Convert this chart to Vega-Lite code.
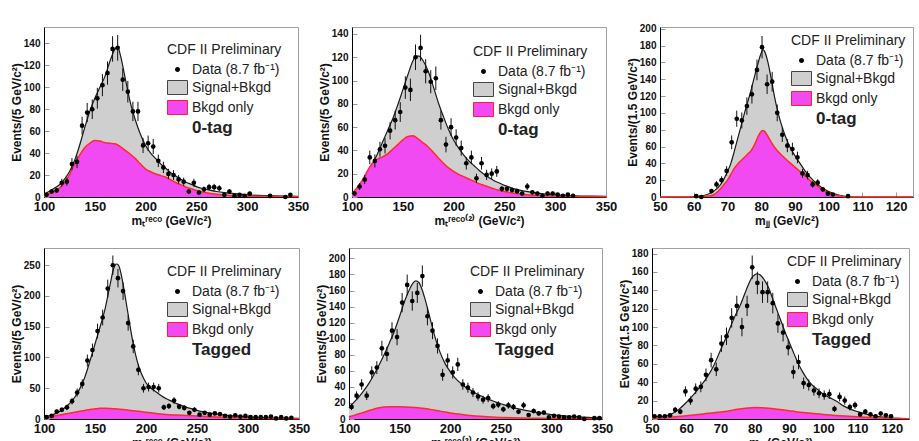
{
"$schema": "https://vega.github.io/schema/vega-lite/v6.json",
"background": "white",
"padding": {"left": 9, "top": 23, "right": 0, "bottom": 0},
"config": {
 "view": {"stroke": "#a0a0a0", "strokeWidth": 1},
 "font": "Liberation Sans",
 "axis": {"grid": false, "domainColor": "#000000", "domainWidth": 1, "tickColor": "#999999", "tickSize": -5, "labelPadding": 9, "labelOverlap": false, "labelFont": "Liberation Sans", "labelFontWeight": "bold", "labelColor": "#111111", "titleFont": "Liberation Sans", "titleFontWeight": "bold", "titleFontSize": 12, "titleColor": "#111111"},
 "axisX": {"labelFontSize": 13, "labelFlush": false, "titlePadding": 2, "labelPadding": 8},
 "axisY": {"labelFontSize": 10, "titlePadding": 0},
 "legend": {"orient": "top-right", "offset": 16, "padding": 0, "titleFont": "Liberation Sans", "titleFontSize": 14, "titleFontWeight": "normal", "titleColor": "#222222", "titlePadding": 2, "labelFont": "Liberation Sans", "labelFontSize": 14, "labelColor": "#222222", "labelLimit": 300, "symbolSize": 400, "rowPadding": 0, "symbolStrokeWidth": 1, "symbolOffset": 0}
},
"datasets": {
 "a1": [{"m":102.5,"v":2,"e":1.4},{"m":107.5,"v":5,"e":2.2},{"m":112.5,"v":6,"e":2.4},{"m":117.5,"v":13,"e":3.6},{"m":122.5,"v":14,"e":3.7},{"m":127.5,"v":30,"e":5.5},{"m":132.5,"v":32,"e":5.7},{"m":137.5,"v":65,"e":8.1},{"m":142.5,"v":77,"e":8.8},{"m":147.5,"v":80,"e":8.9},{"m":152.5,"v":90,"e":9.5},{"m":157.5,"v":102,"e":10.1},{"m":162.5,"v":113,"e":10.6},{"m":167.5,"v":135,"e":11.6},{"m":172.5,"v":136,"e":11.7},{"m":177.5,"v":107,"e":10.3},{"m":182.5,"v":96,"e":9.8},{"m":187.5,"v":78,"e":8.8},{"m":192.5,"v":78,"e":8.8},{"m":197.5,"v":47,"e":6.9},{"m":202.5,"v":49,"e":7},{"m":207.5,"v":46,"e":6.8},{"m":212.5,"v":33,"e":5.7},{"m":217.5,"v":27,"e":5.2},{"m":222.5,"v":21,"e":4.6},{"m":227.5,"v":20,"e":4.5},{"m":232.5,"v":16,"e":4},{"m":237.5,"v":14,"e":3.7},{"m":242.5,"v":5,"e":2.2},{"m":247.5,"v":13,"e":3.6},{"m":252.5,"v":4,"e":2},{"m":257.5,"v":7,"e":2.6},{"m":262.5,"v":9,"e":3},{"m":267.5,"v":9,"e":3},{"m":272.5,"v":8,"e":2.8},{"m":277.5,"v":2,"e":1.4},{"m":282.5,"v":5,"e":2.2},{"m":287.5,"v":1,"e":1},{"m":292.5,"v":2,"e":1.4},{"m":297.5,"v":1,"e":1},{"m":302.5,"v":3,"e":1.7},{"m":322.5,"v":1,"e":1},{"m":337.5,"v":0,"e":0},{"m":342.5,"v":2,"e":1.4}],
 "s1": [{"m":100,"v":3},{"m":105,"v":5},{"m":110,"v":8},{"m":115,"v":11},{"m":120,"v":16},{"m":125,"v":23},{"m":130,"v":33},{"m":135,"v":47},{"m":140,"v":63},{"m":145,"v":78},{"m":150,"v":90},{"m":155,"v":100},{"m":160,"v":110},{"m":165,"v":124},{"m":170,"v":135},{"m":172.5,"v":137},{"m":175,"v":130},{"m":180,"v":108},{"m":185,"v":86},{"m":190,"v":70},{"m":195,"v":57},{"m":200,"v":47},{"m":205,"v":40},{"m":210,"v":35},{"m":215,"v":30},{"m":220,"v":26},{"m":225,"v":22},{"m":230,"v":19},{"m":235,"v":16},{"m":240,"v":13.5},{"m":245,"v":11.5},{"m":250,"v":9.5},{"m":255,"v":8},{"m":260,"v":7},{"m":270,"v":5},{"m":280,"v":3.8},{"m":290,"v":2.8},{"m":300,"v":2},{"m":310,"v":1.5},{"m":320,"v":1.2},{"m":335,"v":0.8},{"m":350,"v":0.5}],
 "b1": [{"m":100,"v":2},{"m":105,"v":3},{"m":110,"v":5},{"m":115,"v":8},{"m":120,"v":13},{"m":125,"v":20},{"m":130,"v":30},{"m":135,"v":38},{"m":140,"v":45},{"m":145,"v":49},{"m":150,"v":51.5},{"m":155,"v":51},{"m":160,"v":49.5},{"m":165,"v":49},{"m":170,"v":48.5},{"m":175,"v":46},{"m":180,"v":42.5},{"m":185,"v":39},{"m":190,"v":35},{"m":195,"v":30},{"m":200,"v":25.5},{"m":205,"v":23},{"m":210,"v":21},{"m":215,"v":19.5},{"m":220,"v":18},{"m":225,"v":15.5},{"m":230,"v":13},{"m":235,"v":11},{"m":240,"v":9},{"m":245,"v":7.5},{"m":250,"v":6},{"m":255,"v":4.8},{"m":260,"v":3.8},{"m":270,"v":2.5},{"m":280,"v":1.7},{"m":290,"v":1.2},{"m":300,"v":0.9},{"m":320,"v":0.6},{"m":350,"v":0.3}],
 "a2": [{"m":102.5,"v":3,"e":1.7},{"m":107.5,"v":9,"e":3},{"m":112.5,"v":15,"e":3.9},{"m":117.5,"v":34,"e":5.8},{"m":122.5,"v":31,"e":5.6},{"m":127.5,"v":41,"e":6.4},{"m":132.5,"v":44,"e":6.6},{"m":137.5,"v":57,"e":7.5},{"m":142.5,"v":66,"e":8.1},{"m":147.5,"v":73,"e":8.5},{"m":152.5,"v":94,"e":9.7},{"m":157.5,"v":92,"e":9.6},{"m":162.5,"v":120,"e":11},{"m":167.5,"v":128,"e":11.3},{"m":172.5,"v":108,"e":10.4},{"m":177.5,"v":99,"e":9.9},{"m":182.5,"v":102,"e":10.1},{"m":187.5,"v":66,"e":8.1},{"m":192.5,"v":45,"e":6.7},{"m":197.5,"v":60,"e":7.7},{"m":202.5,"v":51,"e":7.1},{"m":207.5,"v":42,"e":6.5},{"m":212.5,"v":29,"e":5.4},{"m":217.5,"v":34,"e":5.8},{"m":222.5,"v":16,"e":4},{"m":227.5,"v":29,"e":5.4},{"m":232.5,"v":19,"e":4.4},{"m":237.5,"v":20,"e":4.5},{"m":242.5,"v":22,"e":4.7},{"m":247.5,"v":7,"e":2.6},{"m":252.5,"v":7,"e":2.6},{"m":257.5,"v":6,"e":2.4},{"m":262.5,"v":5,"e":2.2},{"m":267.5,"v":3,"e":1.7},{"m":272.5,"v":9,"e":3},{"m":277.5,"v":4,"e":2},{"m":282.5,"v":3,"e":1.7},{"m":287.5,"v":1,"e":1},{"m":292.5,"v":3,"e":1.7},{"m":297.5,"v":3,"e":1.7},{"m":302.5,"v":2,"e":1.4},{"m":307.5,"v":1,"e":1},{"m":312.5,"v":2,"e":1.4},{"m":317.5,"v":1,"e":1}],
 "s2": [{"m":100,"v":3},{"m":105,"v":7},{"m":110,"v":12},{"m":115,"v":19},{"m":120,"v":28},{"m":125,"v":37},{"m":130,"v":47},{"m":135,"v":57},{"m":140,"v":67},{"m":145,"v":79},{"m":150,"v":92},{"m":155,"v":105},{"m":160,"v":117},{"m":163,"v":121},{"m":166,"v":121},{"m":170,"v":117},{"m":175,"v":108},{"m":180,"v":95},{"m":185,"v":81},{"m":190,"v":69},{"m":195,"v":58},{"m":200,"v":49},{"m":205,"v":42},{"m":210,"v":36},{"m":215,"v":31},{"m":220,"v":27},{"m":225,"v":23},{"m":230,"v":19.5},{"m":235,"v":16.5},{"m":240,"v":14},{"m":245,"v":12},{"m":250,"v":10},{"m":255,"v":8.5},{"m":260,"v":7},{"m":270,"v":5},{"m":280,"v":3.6},{"m":290,"v":2.6},{"m":300,"v":1.9},{"m":310,"v":1.4},{"m":320,"v":1},{"m":335,"v":0.7},{"m":350,"v":0.5}],
 "b2": [{"m":100,"v":3},{"m":105,"v":8},{"m":110,"v":14},{"m":115,"v":22},{"m":120,"v":29},{"m":125,"v":32.5},{"m":130,"v":34.5},{"m":135,"v":37},{"m":140,"v":41},{"m":145,"v":45},{"m":150,"v":49},{"m":155,"v":52},{"m":160,"v":52.5},{"m":165,"v":50},{"m":170,"v":46.5},{"m":175,"v":43},{"m":180,"v":38.5},{"m":185,"v":33.5},{"m":190,"v":29},{"m":195,"v":25},{"m":200,"v":22},{"m":205,"v":19.5},{"m":210,"v":17.5},{"m":215,"v":15.5},{"m":220,"v":13.5},{"m":225,"v":11.5},{"m":230,"v":10},{"m":235,"v":8.5},{"m":240,"v":7},{"m":245,"v":5.8},{"m":250,"v":4.8},{"m":260,"v":3.2},{"m":270,"v":2.2},{"m":280,"v":1.5},{"m":300,"v":0.8},{"m":320,"v":0.5},{"m":350,"v":0.2}],
 "a3": [{"m":60.75,"v":1,"e":1},{"m":62.25,"v":0,"e":0},{"m":65.25,"v":7,"e":2.6},{"m":66.75,"v":15,"e":3.9},{"m":68.25,"v":20,"e":4.5},{"m":69.75,"v":31,"e":5.6},{"m":71.25,"v":65,"e":8.1},{"m":72.75,"v":93,"e":9.6},{"m":74.25,"v":91,"e":9.5},{"m":75.75,"v":108,"e":10.4},{"m":77.25,"v":122,"e":11},{"m":78.75,"v":151,"e":12.3},{"m":80.25,"v":178,"e":13.3},{"m":81.75,"v":134,"e":11.6},{"m":83.25,"v":137,"e":11.7},{"m":84.75,"v":100,"e":10},{"m":86.25,"v":74,"e":8.6},{"m":87.75,"v":61,"e":7.8},{"m":89.25,"v":57,"e":7.5},{"m":90.75,"v":47,"e":6.9},{"m":92.25,"v":28,"e":5.3},{"m":93.75,"v":26,"e":5.1},{"m":95.25,"v":15,"e":3.9},{"m":96.75,"v":17,"e":4.1},{"m":98.25,"v":9,"e":3},{"m":99.75,"v":4,"e":2},{"m":101.25,"v":3,"e":1.7},{"m":105.75,"v":1,"e":1}],
 "s3": [{"m":50,"v":0},{"m":58,"v":0},{"m":60,"v":0.5},{"m":62,"v":1},{"m":64,"v":3},{"m":66,"v":7},{"m":68,"v":15},{"m":70,"v":30},{"m":71,"v":40},{"m":72,"v":54},{"m":73,"v":69},{"m":74,"v":84},{"m":75,"v":99},{"m":76,"v":113},{"m":77,"v":127},{"m":78,"v":143},{"m":79,"v":158},{"m":80,"v":171},{"m":80.5,"v":175},{"m":81,"v":173},{"m":82,"v":160},{"m":83,"v":140},{"m":84,"v":118},{"m":85,"v":100},{"m":86,"v":86},{"m":87,"v":74},{"m":88,"v":64},{"m":89,"v":56},{"m":90,"v":49},{"m":91,"v":43},{"m":92,"v":37},{"m":93,"v":31},{"m":94,"v":26},{"m":95,"v":21.5},{"m":96,"v":17.5},{"m":97,"v":14},{"m":98,"v":11},{"m":99,"v":8.5},{"m":100,"v":6.5},{"m":101,"v":4.8},{"m":102,"v":3.4},{"m":103,"v":2.2},{"m":104,"v":1.3},{"m":105,"v":0.7},{"m":106,"v":0.3},{"m":108,"v":0},{"m":125,"v":0}],
 "b3": [{"m":50,"v":0},{"m":62,"v":0},{"m":63,"v":0.5},{"m":65,"v":1.5},{"m":66,"v":3},{"m":67,"v":6},{"m":68,"v":10},{"m":69,"v":15},{"m":70,"v":20},{"m":71,"v":27},{"m":72,"v":34},{"m":73,"v":39},{"m":74,"v":43},{"m":75,"v":47},{"m":76,"v":51},{"m":77,"v":55},{"m":78,"v":62},{"m":79,"v":71},{"m":80,"v":78},{"m":80.5,"v":79},{"m":81,"v":78},{"m":82,"v":72},{"m":83,"v":65},{"m":84,"v":59},{"m":85,"v":54},{"m":86,"v":50},{"m":87,"v":46},{"m":88,"v":42.5},{"m":89,"v":39},{"m":90,"v":35.5},{"m":91,"v":32},{"m":92,"v":28.5},{"m":93,"v":25},{"m":94,"v":21.5},{"m":95,"v":18},{"m":96,"v":15},{"m":97,"v":12},{"m":98,"v":9},{"m":99,"v":6.8},{"m":100,"v":5},{"m":101,"v":3.5},{"m":102,"v":2.3},{"m":103,"v":1.4},{"m":104,"v":0.7},{"m":105,"v":0.3},{"m":106,"v":0},{"m":125,"v":0}],
 "a4": [{"m":102.5,"v":3,"e":1.7},{"m":107.5,"v":5,"e":2.2},{"m":112.5,"v":12,"e":3.5},{"m":117.5,"v":15,"e":3.9},{"m":122.5,"v":19,"e":4.4},{"m":127.5,"v":29,"e":5.4},{"m":132.5,"v":43,"e":6.6},{"m":137.5,"v":57,"e":7.5},{"m":142.5,"v":95,"e":9.7},{"m":147.5,"v":112,"e":10.6},{"m":152.5,"v":143,"e":12},{"m":157.5,"v":165,"e":12.8},{"m":162.5,"v":212,"e":14.6},{"m":167.5,"v":250,"e":15.8},{"m":172.5,"v":229,"e":15.1},{"m":177.5,"v":208,"e":14.4},{"m":182.5,"v":156,"e":12.5},{"m":187.5,"v":118,"e":10.9},{"m":192.5,"v":80,"e":8.9},{"m":197.5,"v":50,"e":7.1},{"m":202.5,"v":52,"e":7.2},{"m":207.5,"v":52,"e":7.2},{"m":212.5,"v":50,"e":7.1},{"m":217.5,"v":19,"e":4.4},{"m":222.5,"v":21,"e":4.6},{"m":227.5,"v":30,"e":5.5},{"m":232.5,"v":20,"e":4.5},{"m":237.5,"v":18,"e":4.2},{"m":242.5,"v":10,"e":3.2},{"m":247.5,"v":15,"e":3.9},{"m":252.5,"v":7,"e":2.6},{"m":257.5,"v":10,"e":3.2},{"m":262.5,"v":7,"e":2.6},{"m":267.5,"v":9,"e":3},{"m":272.5,"v":8,"e":2.8},{"m":277.5,"v":5,"e":2.2},{"m":282.5,"v":4,"e":2},{"m":287.5,"v":6,"e":2.4},{"m":292.5,"v":4,"e":2},{"m":297.5,"v":5,"e":2.2},{"m":302.5,"v":3,"e":1.7},{"m":307.5,"v":3,"e":1.7},{"m":312.5,"v":3,"e":1.7},{"m":317.5,"v":3,"e":1.7},{"m":322.5,"v":4,"e":2},{"m":327.5,"v":1,"e":1},{"m":332.5,"v":3,"e":1.7},{"m":337.5,"v":1,"e":1},{"m":342.5,"v":2,"e":1.4}],
 "s4": [{"m":100,"v":3},{"m":105,"v":5},{"m":110,"v":8},{"m":115,"v":12},{"m":120,"v":18},{"m":125,"v":25},{"m":130,"v":35},{"m":135,"v":49},{"m":140,"v":68},{"m":145,"v":94},{"m":150,"v":122},{"m":155,"v":150},{"m":160,"v":180},{"m":165,"v":220},{"m":168,"v":243},{"m":171,"v":252},{"m":173,"v":250},{"m":175,"v":240},{"m":178,"v":215},{"m":180,"v":195},{"m":183,"v":165},{"m":185,"v":145},{"m":188,"v":118},{"m":190,"v":103},{"m":193,"v":85},{"m":195,"v":76},{"m":198,"v":65},{"m":200,"v":59},{"m":205,"v":50},{"m":210,"v":44},{"m":215,"v":38},{"m":220,"v":33},{"m":225,"v":29},{"m":230,"v":25},{"m":235,"v":22},{"m":240,"v":19},{"m":245,"v":16.5},{"m":250,"v":14},{"m":255,"v":12},{"m":260,"v":10.5},{"m":270,"v":8},{"m":280,"v":6},{"m":290,"v":4.6},{"m":300,"v":3.5},{"m":310,"v":2.7},{"m":320,"v":2},{"m":335,"v":1.4},{"m":350,"v":1}],
 "b4": [{"m":100,"v":2},{"m":105,"v":3.5},{"m":110,"v":5},{"m":115,"v":6.5},{"m":120,"v":8},{"m":125,"v":9.5},{"m":130,"v":11},{"m":135,"v":12.5},{"m":140,"v":14},{"m":145,"v":15.5},{"m":150,"v":16.5},{"m":155,"v":17.3},{"m":160,"v":17.3},{"m":165,"v":17},{"m":170,"v":16.5},{"m":175,"v":16},{"m":180,"v":15},{"m":185,"v":14},{"m":190,"v":13},{"m":195,"v":12},{"m":200,"v":11},{"m":205,"v":10},{"m":210,"v":9},{"m":215,"v":8},{"m":220,"v":7.3},{"m":230,"v":6.5},{"m":240,"v":5.8},{"m":250,"v":5},{"m":260,"v":4},{"m":270,"v":3.2},{"m":280,"v":2.5},{"m":300,"v":1.5},{"m":320,"v":0.9},{"m":350,"v":0.4}],
 "a5": [{"m":102.5,"v":15,"e":3.9},{"m":107.5,"v":29,"e":5.4},{"m":112.5,"v":43,"e":6.6},{"m":117.5,"v":29,"e":5.4},{"m":122.5,"v":58,"e":7.6},{"m":127.5,"v":64,"e":8},{"m":132.5,"v":88,"e":9.4},{"m":137.5,"v":81,"e":9},{"m":142.5,"v":110,"e":10.5},{"m":147.5,"v":102,"e":10.1},{"m":152.5,"v":145,"e":12},{"m":157.5,"v":167,"e":12.9},{"m":162.5,"v":147,"e":12.1},{"m":167.5,"v":157,"e":12.5},{"m":172.5,"v":178,"e":13.3},{"m":177.5,"v":128,"e":11.3},{"m":182.5,"v":110,"e":10.5},{"m":187.5,"v":91,"e":9.5},{"m":192.5,"v":55,"e":7.4},{"m":197.5,"v":73,"e":8.5},{"m":202.5,"v":58,"e":7.6},{"m":207.5,"v":68,"e":8.2},{"m":212.5,"v":43,"e":6.6},{"m":217.5,"v":39,"e":6.2},{"m":222.5,"v":33,"e":5.7},{"m":227.5,"v":28,"e":5.3},{"m":232.5,"v":24,"e":4.9},{"m":237.5,"v":26,"e":5.1},{"m":242.5,"v":16,"e":4},{"m":247.5,"v":18,"e":4.2},{"m":252.5,"v":12,"e":3.5},{"m":257.5,"v":17,"e":4.1},{"m":262.5,"v":15,"e":3.9},{"m":267.5,"v":9,"e":3},{"m":272.5,"v":17,"e":4.1},{"m":277.5,"v":5,"e":2.2},{"m":282.5,"v":10,"e":3.2},{"m":287.5,"v":7,"e":2.6},{"m":292.5,"v":8,"e":2.8},{"m":297.5,"v":2,"e":1.4},{"m":302.5,"v":4,"e":2},{"m":307.5,"v":3,"e":1.7},{"m":312.5,"v":2,"e":1.4},{"m":317.5,"v":2,"e":1.4},{"m":322.5,"v":3,"e":1.7},{"m":327.5,"v":2,"e":1.4},{"m":332.5,"v":0,"e":0},{"m":342.5,"v":1,"e":1},{"m":347.5,"v":1,"e":1}],
 "s5": [{"m":100,"v":14},{"m":105,"v":21},{"m":110,"v":28},{"m":115,"v":36},{"m":120,"v":45},{"m":125,"v":56},{"m":130,"v":68},{"m":135,"v":81},{"m":140,"v":95},{"m":145,"v":110},{"m":150,"v":128},{"m":155,"v":147},{"m":160,"v":162},{"m":163,"v":169},{"m":166,"v":172},{"m":169,"v":170},{"m":172,"v":162},{"m":175,"v":150},{"m":178,"v":136},{"m":180,"v":126},{"m":185,"v":102},{"m":190,"v":83},{"m":195,"v":69},{"m":200,"v":59},{"m":205,"v":51},{"m":210,"v":45},{"m":215,"v":40},{"m":220,"v":36},{"m":225,"v":32},{"m":230,"v":29},{"m":235,"v":26},{"m":240,"v":23.5},{"m":245,"v":21},{"m":250,"v":19},{"m":255,"v":17},{"m":260,"v":15},{"m":270,"v":12},{"m":280,"v":9.5},{"m":290,"v":7.3},{"m":300,"v":5.5},{"m":310,"v":4.2},{"m":320,"v":3.2},{"m":330,"v":2.4},{"m":340,"v":1.7},{"m":350,"v":1.2}],
 "b5": [{"m":100,"v":2.5},{"m":105,"v":4.5},{"m":110,"v":6.5},{"m":115,"v":8.5},{"m":120,"v":10.5},{"m":125,"v":12.5},{"m":130,"v":14},{"m":135,"v":15},{"m":140,"v":15.3},{"m":145,"v":15.3},{"m":150,"v":15.2},{"m":155,"v":15},{"m":160,"v":14.7},{"m":165,"v":14.3},{"m":170,"v":13.8},{"m":175,"v":13},{"m":180,"v":12},{"m":185,"v":11},{"m":190,"v":9.8},{"m":195,"v":8.6},{"m":200,"v":7.5},{"m":205,"v":6.6},{"m":210,"v":5.8},{"m":215,"v":5},{"m":220,"v":4.4},{"m":230,"v":3.4},{"m":240,"v":2.6},{"m":250,"v":2},{"m":260,"v":1.6},{"m":270,"v":1.3},{"m":280,"v":1},{"m":300,"v":0.7},{"m":320,"v":0.5},{"m":350,"v":0.3}],
 "a6": [{"m":50.75,"v":3,"e":1.7},{"m":52.25,"v":3,"e":1.7},{"m":53.75,"v":3,"e":1.7},{"m":55.25,"v":4,"e":2},{"m":56.75,"v":10,"e":3.2},{"m":58.25,"v":8,"e":2.8},{"m":59.75,"v":30,"e":5.5},{"m":61.25,"v":20,"e":4.5},{"m":62.75,"v":33,"e":5.7},{"m":64.25,"v":35,"e":5.9},{"m":65.75,"v":48,"e":6.9},{"m":67.25,"v":64,"e":8},{"m":68.75,"v":54,"e":7.3},{"m":70.25,"v":82,"e":9.1},{"m":71.75,"v":90,"e":9.5},{"m":73.25,"v":110,"e":10.5},{"m":74.75,"v":123,"e":11.1},{"m":76.25,"v":100,"e":10},{"m":77.75,"v":123,"e":11.1},{"m":79.25,"v":165,"e":12.8},{"m":80.75,"v":148,"e":12.2},{"m":82.25,"v":138,"e":11.7},{"m":83.75,"v":138,"e":11.7},{"m":85.25,"v":126,"e":11.2},{"m":86.75,"v":104,"e":10.2},{"m":88.25,"v":94,"e":9.7},{"m":89.75,"v":78,"e":8.8},{"m":91.25,"v":51,"e":7.1},{"m":92.75,"v":62,"e":7.9},{"m":94.25,"v":39,"e":6.2},{"m":95.75,"v":37,"e":6.1},{"m":97.25,"v":31,"e":5.6},{"m":98.75,"v":28,"e":5.3},{"m":100.25,"v":26,"e":5.1},{"m":101.75,"v":27,"e":5.2},{"m":103.25,"v":11,"e":3.3},{"m":104.75,"v":24,"e":4.9},{"m":106.25,"v":20,"e":4.5},{"m":107.75,"v":13,"e":3.6},{"m":109.25,"v":15,"e":3.9},{"m":110.75,"v":5,"e":2.2},{"m":112.25,"v":8,"e":2.8},{"m":113.75,"v":5,"e":2.2},{"m":115.25,"v":3,"e":1.7},{"m":116.75,"v":6,"e":2.4},{"m":118.25,"v":4,"e":2},{"m":119.75,"v":3,"e":1.7}],
 "s6": [{"m":50,"v":2},{"m":52,"v":2.5},{"m":54,"v":3.5},{"m":56,"v":6},{"m":58,"v":11},{"m":60,"v":18},{"m":62,"v":26},{"m":64,"v":35},{"m":66,"v":45},{"m":68,"v":58},{"m":70,"v":75},{"m":72,"v":92},{"m":74,"v":110},{"m":76,"v":126},{"m":78,"v":145},{"m":79,"v":153},{"m":80,"v":157},{"m":80.7,"v":158},{"m":81.5,"v":157},{"m":83,"v":150},{"m":84,"v":143},{"m":85,"v":133},{"m":86,"v":123},{"m":87,"v":113},{"m":88,"v":103},{"m":89,"v":93},{"m":90,"v":84},{"m":91,"v":75},{"m":92,"v":66},{"m":93,"v":58},{"m":94,"v":51},{"m":95,"v":45},{"m":96,"v":40},{"m":97,"v":36},{"m":98,"v":33},{"m":99,"v":30},{"m":100,"v":27},{"m":102,"v":23},{"m":104,"v":19},{"m":106,"v":14},{"m":108,"v":10.5},{"m":110,"v":8},{"m":112,"v":5.8},{"m":114,"v":4},{"m":116,"v":2.7},{"m":118,"v":1.8},{"m":120,"v":1.1},{"m":122,"v":0.7},{"m":125,"v":0.3}],
 "b6": [{"m":50,"v":0.5},{"m":55,"v":2},{"m":60,"v":3.5},{"m":65,"v":5.5},{"m":70,"v":7.5},{"m":72,"v":8.5},{"m":75,"v":10.5},{"m":78,"v":12},{"m":80,"v":12.5},{"m":82,"v":12.3},{"m":84,"v":11.8},{"m":86,"v":11},{"m":88,"v":10},{"m":90,"v":9},{"m":92,"v":8},{"m":95,"v":6.8},{"m":100,"v":5},{"m":105,"v":3.6},{"m":110,"v":2.4},{"m":115,"v":1.4},{"m":120,"v":0.7},{"m":125,"v":0.3}]
},
"spacing": 20,
"resolve": {"scale": {"color": "independent"}, "legend": {"color": "independent"}},
"vconcat": [
 {"hconcat": [
  {"width": 254, "height": 170,
   "encoding": {"x": {"field": "m", "type": "quantitative", "scale": {"domain": [100, 350], "nice": false, "zero": false}, "axis": {"title": "mₜʳᵉᶜᵒ (GeV/c²)", "values": [100,150,200,250,300,350]}},
                "y": {"field": "v", "type": "quantitative", "scale": {"domain": [0, 155], "nice": false}, "axis": {"title": "Events/(5 GeV/c²)", "values": [0,20,40,60,80,100,120,140]}}},
   "layer": [
    {"data": {"name": "s1"}, "mark": {"type": "area", "interpolate": "monotone", "opacity": 1}, "encoding": {"color": {"datum": "Signal+Bkgd", "type": "nominal", "scale": {"domain": ["Data (8.7 fb⁻¹)", "Signal+Bkgd", "Bkgd only", "0-tag"], "range": ["#000000", "#cfcfcf", "#f24af2", "rgba(255,255,255,0)"]}, "legend": {"title": "CDF II Preliminary", "offset": 16, "symbolType": {"expr": "datum.value === 'Signal+Bkgd' || datum.value === 'Bkgd only' ? 'M-1,-0.7H1V0.7H-1Z' : 'M0,-0.25A0.25,0.25 0 1,1 0,0.25A0.25,0.25 0 1,1 0,-0.25Z'"}, "symbolStrokeColor": {"expr": "datum.value === 'Signal+Bkgd' ? '#444444' : datum.value === 'Bkgd only' ? '#ff2020' : 'rgba(0,0,0,0)'"}, "labelFontWeight": {"expr": "datum.value === '0-tag' || datum.value === 'Tagged' ? 'bold' : 'normal'"}, "labelFontSize": {"expr": "datum.value === '0-tag' || datum.value === 'Tagged' ? 17 : 14"}}}}},
    {"data": {"name": "s1"}, "mark": {"type": "line", "interpolate": "monotone", "color": "#1a1a1a", "strokeWidth": 1.2}, "encoding": {}},
    {"data": {"name": "b1"}, "mark": {"type": "area", "interpolate": "monotone", "opacity": 1}, "encoding": {"color": {"datum": "Bkgd only", "type": "nominal", "scale": {"domain": ["Data (8.7 fb⁻¹)", "Signal+Bkgd", "Bkgd only", "0-tag"], "range": ["#000000", "#cfcfcf", "#f24af2", "rgba(255,255,255,0)"]}}}},
    {"data": {"name": "b1"}, "mark": {"type": "line", "interpolate": "monotone", "color": "#ff2a2a", "strokeWidth": 1.5}, "encoding": {}},
    {"data": {"name": "a1"}, "mark": {"type": "errorbar", "color": "#111111", "thickness": 1, "opacity": 1}, "encoding": {"yError": {"field": "e"}}},
    {"data": {"name": "a1"}, "mark": {"type": "point", "filled": true, "size": 22, "opacity": 1}, "encoding": {"color": {"datum": "Data (8.7 fb⁻¹)", "type": "nominal", "scale": {"domain": ["Data (8.7 fb⁻¹)", "Signal+Bkgd", "Bkgd only", "0-tag"], "range": ["#000000", "#cfcfcf", "#f24af2", "rgba(255,255,255,0)"]}}}},
    {"data": {"values": [{}]}, "mark": {"type": "rule", "color": "#c03030", "strokeWidth": 1}, "encoding": {"x": {"datum": 350}, "y": {"datum": 0}, "y2": {"datum": 155}}}
   ]},
  {"width": 254, "height": 170,
   "encoding": {"x": {"field": "m", "type": "quantitative", "scale": {"domain": [100, 350], "nice": false, "zero": false}, "axis": {"title": "mₜʳᵉᶜᵒ⁽²⁾ (GeV/c²)", "values": [100,150,200,250,300,350]}},
                "y": {"field": "v", "type": "quantitative", "scale": {"domain": [0, 146], "nice": false}, "axis": {"title": "Events/(5 GeV/c²)", "values": [0,20,40,60,80,100,120,140]}}},
   "layer": [
    {"data": {"name": "s2"}, "mark": {"type": "area", "interpolate": "monotone", "opacity": 1}, "encoding": {"color": {"datum": "Signal+Bkgd", "type": "nominal", "scale": {"domain": ["Data (8.7 fb⁻¹)", "Signal+Bkgd", "Bkgd only", "0-tag"], "range": ["#000000", "#cfcfcf", "#f24af2", "rgba(255,255,255,0)"]}, "legend": {"title": "CDF II Preliminary", "offset": 18, "symbolType": {"expr": "datum.value === 'Signal+Bkgd' || datum.value === 'Bkgd only' ? 'M-1,-0.7H1V0.7H-1Z' : 'M0,-0.25A0.25,0.25 0 1,1 0,0.25A0.25,0.25 0 1,1 0,-0.25Z'"}, "symbolStrokeColor": {"expr": "datum.value === 'Signal+Bkgd' ? '#444444' : datum.value === 'Bkgd only' ? '#ff2020' : 'rgba(0,0,0,0)'"}, "labelFontWeight": {"expr": "datum.value === '0-tag' || datum.value === 'Tagged' ? 'bold' : 'normal'"}, "labelFontSize": {"expr": "datum.value === '0-tag' || datum.value === 'Tagged' ? 17 : 14"}}}}},
    {"data": {"name": "s2"}, "mark": {"type": "line", "interpolate": "monotone", "color": "#1a1a1a", "strokeWidth": 1.2}, "encoding": {}},
    {"data": {"name": "b2"}, "mark": {"type": "area", "interpolate": "monotone", "opacity": 1}, "encoding": {"color": {"datum": "Bkgd only", "type": "nominal", "scale": {"domain": ["Data (8.7 fb⁻¹)", "Signal+Bkgd", "Bkgd only", "0-tag"], "range": ["#000000", "#cfcfcf", "#f24af2", "rgba(255,255,255,0)"]}}}},
    {"data": {"name": "b2"}, "mark": {"type": "line", "interpolate": "monotone", "color": "#ff2a2a", "strokeWidth": 1.5}, "encoding": {}},
    {"data": {"name": "a2"}, "mark": {"type": "errorbar", "color": "#111111", "thickness": 1, "opacity": 1}, "encoding": {"yError": {"field": "e"}}},
    {"data": {"name": "a2"}, "mark": {"type": "point", "filled": true, "size": 22, "opacity": 1}, "encoding": {"color": {"datum": "Data (8.7 fb⁻¹)", "type": "nominal", "scale": {"domain": ["Data (8.7 fb⁻¹)", "Signal+Bkgd", "Bkgd only", "0-tag"], "range": ["#000000", "#cfcfcf", "#f24af2", "rgba(255,255,255,0)"]}}}},
    {"data": {"values": [{}]}, "mark": {"type": "rule", "color": "#c03030", "strokeWidth": 1}, "encoding": {"x": {"datum": 350}, "y": {"datum": 0}, "y2": {"datum": 146}}}
   ]},
  {"width": 253, "height": 170,
   "encoding": {"x": {"field": "m", "type": "quantitative", "scale": {"domain": [50, 125], "nice": false, "zero": false}, "axis": {"title": "mⱼⱼ (GeV/c²)", "values": [50,60,70,80,90,100,110,120]}},
                "y": {"field": "v", "type": "quantitative", "scale": {"domain": [0, 202], "nice": false}, "axis": {"title": "Events/(1.5 GeV/c²)", "values": [0,20,40,60,80,100,120,140,160,180,200]}}},
   "layer": [
    {"data": {"name": "s3"}, "mark": {"type": "area", "interpolate": "monotone", "opacity": 1}, "encoding": {"color": {"datum": "Signal+Bkgd", "type": "nominal", "scale": {"domain": ["Data (8.7 fb⁻¹)", "Signal+Bkgd", "Bkgd only", "0-tag"], "range": ["#000000", "#cfcfcf", "#f24af2", "rgba(255,255,255,0)"]}, "legend": {"title": "CDF II Preliminary", "offset": 7, "symbolType": {"expr": "datum.value === 'Signal+Bkgd' || datum.value === 'Bkgd only' ? 'M-1,-0.7H1V0.7H-1Z' : 'M0,-0.25A0.25,0.25 0 1,1 0,0.25A0.25,0.25 0 1,1 0,-0.25Z'"}, "symbolStrokeColor": {"expr": "datum.value === 'Signal+Bkgd' ? '#444444' : datum.value === 'Bkgd only' ? '#ff2020' : 'rgba(0,0,0,0)'"}, "labelFontWeight": {"expr": "datum.value === '0-tag' || datum.value === 'Tagged' ? 'bold' : 'normal'"}, "labelFontSize": {"expr": "datum.value === '0-tag' || datum.value === 'Tagged' ? 17 : 14"}}}}},
    {"data": {"name": "s3"}, "mark": {"type": "line", "interpolate": "monotone", "color": "#1a1a1a", "strokeWidth": 1.2}, "encoding": {}},
    {"data": {"name": "b3"}, "mark": {"type": "area", "interpolate": "monotone", "opacity": 1}, "encoding": {"color": {"datum": "Bkgd only", "type": "nominal", "scale": {"domain": ["Data (8.7 fb⁻¹)", "Signal+Bkgd", "Bkgd only", "0-tag"], "range": ["#000000", "#cfcfcf", "#f24af2", "rgba(255,255,255,0)"]}}}},
    {"data": {"name": "b3"}, "mark": {"type": "line", "interpolate": "monotone", "color": "#ff2a2a", "strokeWidth": 1.5}, "encoding": {}},
    {"data": {"name": "a3"}, "mark": {"type": "errorbar", "color": "#111111", "thickness": 1, "opacity": 1}, "encoding": {"yError": {"field": "e"}}},
    {"data": {"name": "a3"}, "mark": {"type": "point", "filled": true, "size": 22, "opacity": 1}, "encoding": {"color": {"datum": "Data (8.7 fb⁻¹)", "type": "nominal", "scale": {"domain": ["Data (8.7 fb⁻¹)", "Signal+Bkgd", "Bkgd only", "0-tag"], "range": ["#000000", "#cfcfcf", "#f24af2", "rgba(255,255,255,0)"]}}}},
    {"data": {"values": [{}]}, "mark": {"type": "rule", "color": "#c03030", "strokeWidth": 1}, "encoding": {"x": {"datum": 125}, "y": {"datum": 0}, "y2": {"datum": 202}}}
   ]}
 ], "spacing": 54, "bounds": "flush", "resolve": {"scale": {"color": "independent"}, "legend": {"color": "independent"}}},
 {"hconcat": [
  {"width": 255, "height": 171,
   "encoding": {"x": {"field": "m", "type": "quantitative", "scale": {"domain": [100, 350], "nice": false, "zero": false}, "axis": {"title": "mₜʳᵉᶜᵒ (GeV/c²)", "values": [100,150,200,250,300,350]}},
                "y": {"field": "v", "type": "quantitative", "scale": {"domain": [0, 278], "nice": false}, "axis": {"title": "Events/(5 GeV/c²)", "values": [0,50,100,150,200,250]}}},
   "layer": [
    {"data": {"name": "s4"}, "mark": {"type": "area", "interpolate": "monotone", "opacity": 1}, "encoding": {"color": {"datum": "Signal+Bkgd", "type": "nominal", "scale": {"domain": ["Data (8.7 fb⁻¹)", "Signal+Bkgd", "Bkgd only", "Tagged"], "range": ["#000000", "#cfcfcf", "#f24af2", "rgba(255,255,255,0)"]}, "legend": {"title": "CDF II Preliminary", "offset": 17, "symbolType": {"expr": "datum.value === 'Signal+Bkgd' || datum.value === 'Bkgd only' ? 'M-1,-0.7H1V0.7H-1Z' : 'M0,-0.25A0.25,0.25 0 1,1 0,0.25A0.25,0.25 0 1,1 0,-0.25Z'"}, "symbolStrokeColor": {"expr": "datum.value === 'Signal+Bkgd' ? '#444444' : datum.value === 'Bkgd only' ? '#ff2020' : 'rgba(0,0,0,0)'"}, "labelFontWeight": {"expr": "datum.value === '0-tag' || datum.value === 'Tagged' ? 'bold' : 'normal'"}, "labelFontSize": {"expr": "datum.value === '0-tag' || datum.value === 'Tagged' ? 17 : 14"}}}}},
    {"data": {"name": "s4"}, "mark": {"type": "line", "interpolate": "monotone", "color": "#1a1a1a", "strokeWidth": 1.2}, "encoding": {}},
    {"data": {"name": "b4"}, "mark": {"type": "area", "interpolate": "monotone", "opacity": 1}, "encoding": {"color": {"datum": "Bkgd only", "type": "nominal", "scale": {"domain": ["Data (8.7 fb⁻¹)", "Signal+Bkgd", "Bkgd only", "Tagged"], "range": ["#000000", "#cfcfcf", "#f24af2", "rgba(255,255,255,0)"]}}}},
    {"data": {"name": "b4"}, "mark": {"type": "line", "interpolate": "monotone", "color": "#ff2a2a", "strokeWidth": 1.5}, "encoding": {}},
    {"data": {"name": "a4"}, "mark": {"type": "errorbar", "color": "#111111", "thickness": 1, "opacity": 1}, "encoding": {"yError": {"field": "e"}}},
    {"data": {"name": "a4"}, "mark": {"type": "point", "filled": true, "size": 22, "opacity": 1}, "encoding": {"color": {"datum": "Data (8.7 fb⁻¹)", "type": "nominal", "scale": {"domain": ["Data (8.7 fb⁻¹)", "Signal+Bkgd", "Bkgd only", "Tagged"], "range": ["#000000", "#cfcfcf", "#f24af2", "rgba(255,255,255,0)"]}}}},
    {"data": {"values": [{}]}, "mark": {"type": "rule", "color": "#c03030", "strokeWidth": 1}, "encoding": {"x": {"datum": 350}, "y": {"datum": 0}, "y2": {"datum": 278}}}
   ]},
  {"width": 253, "height": 171,
   "encoding": {"x": {"field": "m", "type": "quantitative", "scale": {"domain": [100, 350], "nice": false, "zero": false}, "axis": {"title": "mₜʳᵉᶜᵒ⁽²⁾ (GeV/c²)", "values": [100,150,200,250,300,350]}},
                "y": {"field": "v", "type": "quantitative", "scale": {"domain": [0, 213], "nice": false}, "axis": {"title": "Events/(5 GeV/c²)", "values": [0,20,40,60,80,100,120,140,160,180,200]}}},
   "layer": [
    {"data": {"name": "s5"}, "mark": {"type": "area", "interpolate": "monotone", "opacity": 1}, "encoding": {"color": {"datum": "Signal+Bkgd", "type": "nominal", "scale": {"domain": ["Data (8.7 fb⁻¹)", "Signal+Bkgd", "Bkgd only", "Tagged"], "range": ["#000000", "#cfcfcf", "#f24af2", "rgba(255,255,255,0)"]}, "legend": {"title": "CDF II Preliminary", "offset": 17, "symbolType": {"expr": "datum.value === 'Signal+Bkgd' || datum.value === 'Bkgd only' ? 'M-1,-0.7H1V0.7H-1Z' : 'M0,-0.25A0.25,0.25 0 1,1 0,0.25A0.25,0.25 0 1,1 0,-0.25Z'"}, "symbolStrokeColor": {"expr": "datum.value === 'Signal+Bkgd' ? '#444444' : datum.value === 'Bkgd only' ? '#ff2020' : 'rgba(0,0,0,0)'"}, "labelFontWeight": {"expr": "datum.value === '0-tag' || datum.value === 'Tagged' ? 'bold' : 'normal'"}, "labelFontSize": {"expr": "datum.value === '0-tag' || datum.value === 'Tagged' ? 17 : 14"}}}}},
    {"data": {"name": "s5"}, "mark": {"type": "line", "interpolate": "monotone", "color": "#1a1a1a", "strokeWidth": 1.2}, "encoding": {}},
    {"data": {"name": "b5"}, "mark": {"type": "area", "interpolate": "monotone", "opacity": 1}, "encoding": {"color": {"datum": "Bkgd only", "type": "nominal", "scale": {"domain": ["Data (8.7 fb⁻¹)", "Signal+Bkgd", "Bkgd only", "Tagged"], "range": ["#000000", "#cfcfcf", "#f24af2", "rgba(255,255,255,0)"]}}}},
    {"data": {"name": "b5"}, "mark": {"type": "line", "interpolate": "monotone", "color": "#ff2a2a", "strokeWidth": 1.5}, "encoding": {}},
    {"data": {"name": "a5"}, "mark": {"type": "errorbar", "color": "#111111", "thickness": 1, "opacity": 1}, "encoding": {"yError": {"field": "e"}}},
    {"data": {"name": "a5"}, "mark": {"type": "point", "filled": true, "size": 22, "opacity": 1}, "encoding": {"color": {"datum": "Data (8.7 fb⁻¹)", "type": "nominal", "scale": {"domain": ["Data (8.7 fb⁻¹)", "Signal+Bkgd", "Bkgd only", "Tagged"], "range": ["#000000", "#cfcfcf", "#f24af2", "rgba(255,255,255,0)"]}}}},
    {"data": {"values": [{}]}, "mark": {"type": "rule", "color": "#c03030", "strokeWidth": 1}, "encoding": {"x": {"datum": 350}, "y": {"datum": 0}, "y2": {"datum": 213}}}
   ]},
  {"width": 257, "height": 171,
   "encoding": {"x": {"field": "m", "type": "quantitative", "scale": {"domain": [50, 125], "nice": false, "zero": false}, "axis": {"title": "mⱼⱼ (GeV/c²)", "values": [50,60,70,80,90,100,110,120]}},
                "y": {"field": "v", "type": "quantitative", "scale": {"domain": [0, 186], "nice": false}, "axis": {"title": "Events/(1.5 GeV/c²)", "values": [0,20,40,60,80,100,120,140,160,180]}}},
   "layer": [
    {"data": {"name": "s6"}, "mark": {"type": "area", "interpolate": "monotone", "opacity": 1}, "encoding": {"color": {"datum": "Signal+Bkgd", "type": "nominal", "scale": {"domain": ["Data (8.7 fb⁻¹)", "Signal+Bkgd", "Bkgd only", "Tagged"], "range": ["#000000", "#cfcfcf", "#f24af2", "rgba(255,255,255,0)"]}, "legend": {"title": "CDF II Preliminary", "offset": 7, "symbolType": {"expr": "datum.value === 'Signal+Bkgd' || datum.value === 'Bkgd only' ? 'M-1,-0.7H1V0.7H-1Z' : 'M0,-0.25A0.25,0.25 0 1,1 0,0.25A0.25,0.25 0 1,1 0,-0.25Z'"}, "symbolStrokeColor": {"expr": "datum.value === 'Signal+Bkgd' ? '#444444' : datum.value === 'Bkgd only' ? '#ff2020' : 'rgba(0,0,0,0)'"}, "labelFontWeight": {"expr": "datum.value === '0-tag' || datum.value === 'Tagged' ? 'bold' : 'normal'"}, "labelFontSize": {"expr": "datum.value === '0-tag' || datum.value === 'Tagged' ? 17 : 14"}}}}},
    {"data": {"name": "s6"}, "mark": {"type": "line", "interpolate": "monotone", "color": "#1a1a1a", "strokeWidth": 1.2}, "encoding": {}},
    {"data": {"name": "b6"}, "mark": {"type": "area", "interpolate": "monotone", "opacity": 1}, "encoding": {"color": {"datum": "Bkgd only", "type": "nominal", "scale": {"domain": ["Data (8.7 fb⁻¹)", "Signal+Bkgd", "Bkgd only", "Tagged"], "range": ["#000000", "#cfcfcf", "#f24af2", "rgba(255,255,255,0)"]}}}},
    {"data": {"name": "b6"}, "mark": {"type": "line", "interpolate": "monotone", "color": "#ff2a2a", "strokeWidth": 1.5}, "encoding": {}},
    {"data": {"name": "a6"}, "mark": {"type": "errorbar", "color": "#111111", "thickness": 1, "opacity": 1}, "encoding": {"yError": {"field": "e"}}},
    {"data": {"name": "a6"}, "mark": {"type": "point", "filled": true, "size": 22, "opacity": 1}, "encoding": {"color": {"datum": "Data (8.7 fb⁻¹)", "type": "nominal", "scale": {"domain": ["Data (8.7 fb⁻¹)", "Signal+Bkgd", "Bkgd only", "Tagged"], "range": ["#000000", "#cfcfcf", "#f24af2", "rgba(255,255,255,0)"]}}}},
    {"data": {"values": [{}]}, "mark": {"type": "rule", "color": "#c03030", "strokeWidth": 1}, "encoding": {"x": {"datum": 125}, "y": {"datum": 0}, "y2": {"datum": 186}}}
   ]}
 ], "spacing": 50, "bounds": "flush", "resolve": {"scale": {"color": "independent"}, "legend": {"color": "independent"}}}
]
}
